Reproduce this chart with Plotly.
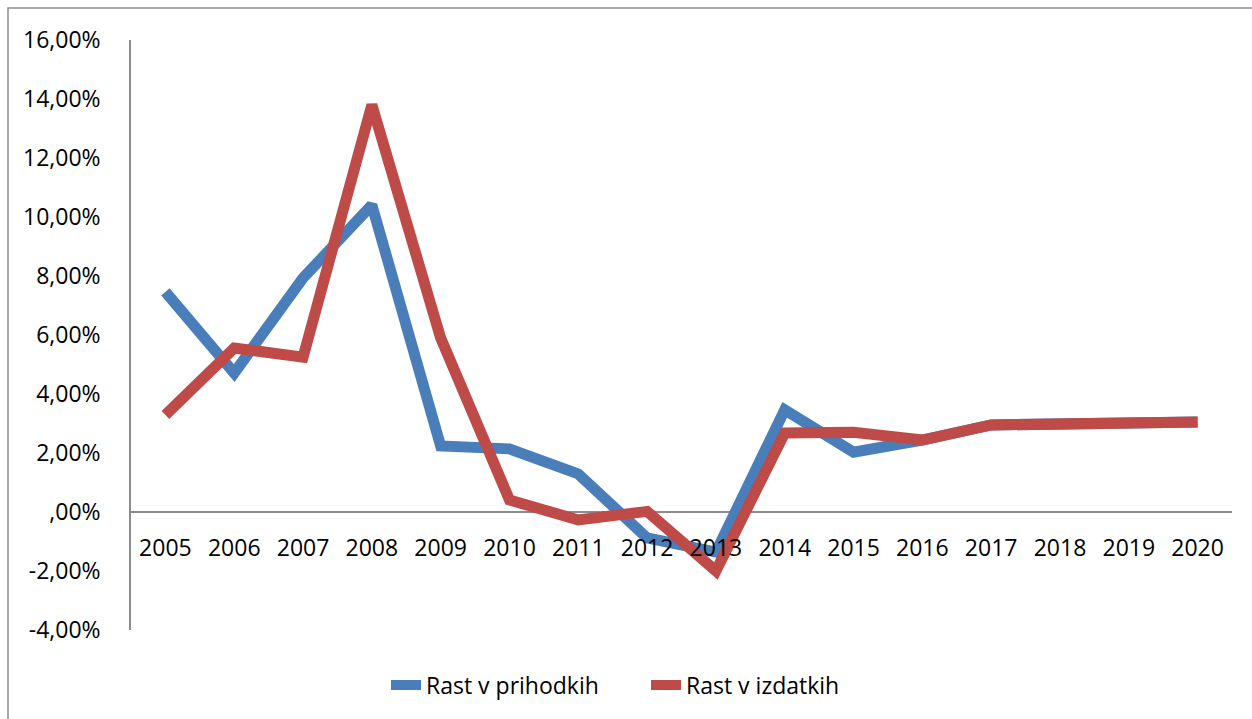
import plotly.graph_objects as go

years = ["2005", "2006", "2007", "2008", "2009", "2010", "2011", "2012",
         "2013", "2014", "2015", "2016", "2017", "2018", "2019", "2020"]

# Annual growth rates (as fractions)
rast_prihodki = [0.0746, 0.0471, 0.0793, 0.1041, 0.0224, 0.0214, 0.0129, -0.0088,
                 -0.0136, 0.0346, 0.0203, 0.0244, 0.0295, 0.0298, 0.0302, 0.0305]
rast_izdatki = [0.0329, 0.0556, 0.0525, 0.1380, 0.0590, 0.0041, -0.0027, 0.0002,
                -0.0200, 0.0268, 0.0270, 0.0244, 0.0295, 0.0298, 0.0302, 0.0305]

y_ticks = [-0.04, -0.02, 0.0, 0.02, 0.04, 0.06, 0.08, 0.10, 0.12, 0.14, 0.16]
y_tick_labels = ["-4,00%", "-2,00%", ",00%", "2,00%", "4,00%", "6,00%",
                 "8,00%", "10,00%", "12,00%", "14,00%", "16,00%"]

FONT = "Open Sans"
GRAY = "#8c8c8c"

fig = go.Figure()
fig.add_trace(go.Scatter(x=years, y=rast_prihodki, mode="lines", name="Rast v prihodkih",
                         line=dict(color="#4A7EBB", width=11)))
fig.add_trace(go.Scatter(x=years, y=rast_izdatki, mode="lines", name="Rast v izdatkih",
                         line=dict(color="#BE4B48", width=11)))

W, H = 1252, 719
L, R, T, B = 131, 20, 40, 89
pw, ph = W - L - R, H - T - B

def px_x(v):
    return (v - L) / pw

def px_y(v):
    return (H - B - v) / ph

fig.update_layout(
    width=W, height=H,
    margin=dict(l=L, r=R, t=T, b=B),
    paper_bgcolor="white", plot_bgcolor="white",
    font=dict(family=FONT, size=23, color="black"),
    showlegend=True,
    legend=dict(orientation="h", x=px_x(386), xanchor="left", y=px_y(685), yanchor="middle",
                font=dict(size=23), entrywidth=215, entrywidthmode="pixels",
                bgcolor="rgba(0,0,0,0)"),
    xaxis=dict(type="category", range=[-0.5, 15.5], anchor="free", position=0.2,
               showline=False, showgrid=False, zeroline=False, ticks="",
               ticklabelstandoff=20, tickfont=dict(size=23)),
    yaxis=dict(range=[-0.04, 0.16], tickvals=y_ticks, ticktext=y_tick_labels,
               showgrid=False, showline=True, linecolor=GRAY, linewidth=1.5,
               zeroline=True, zerolinecolor=GRAY, zerolinewidth=1.5,
               ticks="", ticklabelstandoff=24, tickfont=dict(size=23)),
    shapes=[dict(type="rect", xref="paper", yref="paper",
                 x0=px_x(8), x1=px_x(W + 10), y0=px_y(H + 10), y1=px_y(8),
                 line=dict(color=GRAY, width=1.5), layer="below")],
)

fig.write_html("out.html")
